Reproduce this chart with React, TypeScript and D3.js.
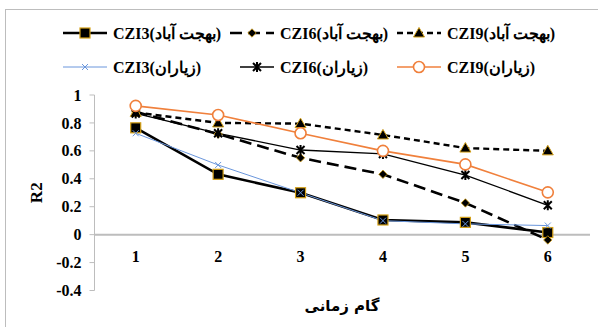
import React from "react";
import * as d3 from "d3";

const steps = [1, 2, 3, 4, 5, 6];
const yTicks = [1, 0.8, 0.6, 0.4, 0.2, 0, -0.2, -0.4];
const czi3Behjat = [0.765, 0.432, 0.3, 0.105, 0.088, 0.015];
const czi6Behjat = [0.88, 0.72, 0.55, 0.432, 0.227, -0.038];
const czi9Behjat = [0.875, 0.8, 0.795, 0.714, 0.62, 0.6];
const czi3Zayaran = [0.726, 0.499, 0.3, 0.1, 0.077, 0.065];
const czi6Zayaran = [0.868, 0.726, 0.606, 0.578, 0.427, 0.21];
const czi9Zayaran = [0.922, 0.857, 0.726, 0.6, 0.503, 0.303];
const labels = [
  "CZI3(بهجت آباد)",
  "CZI6(بهجت آباد)",
  "CZI9(بهجت آباد)",
  "CZI3(زیاران)",
  "CZI6(زیاران)",
  "CZI9(زیاران)",
];
const xTitle = "گام زمانی";
const yTitle = "R2";

type Marker = "square" | "diamond" | "triangle" | "x" | "star" | "circle";
interface Series {
  values: number[];
  label: string;
  color: string;
  width: number;
  dash?: string;
  marker: Marker;
}

const series: Series[] = [
  { values: czi3Behjat, label: labels[0], color: "#000", width: 2.6, marker: "square" },
  { values: czi6Behjat, label: labels[1], color: "#000", width: 2.6, dash: "12,6", marker: "diamond" },
  { values: czi9Behjat, label: labels[2], color: "#000", width: 2.4, dash: "6,4", marker: "triangle" },
  { values: czi3Zayaran, label: labels[3], color: "#6a96dc", width: 1, marker: "x" },
  { values: czi6Zayaran, label: labels[4], color: "#000", width: 1.3, marker: "star" },
  { values: czi9Zayaran, label: labels[5], color: "#f0803c", width: 1.6, marker: "circle" },
];

const GOLD = "#d4a017";
const SERIF = "Liberation Serif, Times New Roman, serif";

function MarkerShape({ type, x, y }: { type: Marker; x: number; y: number }) {
  switch (type) {
    case "square":
      return <rect x={x - 5} y={y - 5} width={10} height={10} fill="#000" stroke={GOLD} strokeWidth={1.2} />;
    case "diamond":
      return (
        <path
          d={`M${x},${y - 4.2}L${x + 4.2},${y}L${x},${y + 4.2}L${x - 4.2},${y}Z`}
          fill="#000"
          stroke={GOLD}
          strokeWidth={0.8}
        />
      );
    case "triangle":
      return (
        <path
          d={`M${x},${y - 5.5}L${x + 5.5},${y + 4}L${x - 5.5},${y + 4}Z`}
          fill="#000"
          stroke={GOLD}
          strokeWidth={1}
        />
      );
    case "x":
      return (
        <path
          d={`M${x - 3},${y - 3}L${x + 3},${y + 3}M${x - 3},${y + 3}L${x + 3},${y - 3}`}
          stroke="#6a96dc"
          strokeWidth={1}
          fill="none"
        />
      );
    case "star":
      return (
        <path
          d={`M${x - 4},${y - 4}L${x + 4},${y + 4}M${x - 4},${y + 4}L${x + 4},${y - 4}M${x},${y - 5}L${x},${y + 5}`}
          stroke="#000"
          strokeWidth={2}
          fill="none"
        />
      );
    case "circle":
      return <circle cx={x} cy={y} r={5.5} fill="#fff" stroke="#f0803c" strokeWidth={1.6} />;
  }
}

export default function App() {
  const W = 598;
  const H = 327;
  const left = 94.5;
  const right = 589;
  const x = d3.scaleBand<number>().domain(steps).range([left, right]);
  const y = d3.scaleLinear().domain([-0.4, 1]).range([290.5, 95]);
  const cx = (d: number) => (x(d) as number) + x.bandwidth() / 2;
  const line = d3
    .line<number>()
    .x((_, i) => cx(steps[i]))
    .y((v) => y(v));

  const legendPos = [
    { lx: 63, ty: 33 },
    { lx: 230, ty: 33 },
    { lx: 397, ty: 33 },
    { lx: 63, ty: 67 },
    { lx: 230, ty: 67 },
    { lx: 397, ty: 67 },
  ];

  const serif = { fontFamily: SERIF };

  return (
    <svg width={W} height={H} style={{ position: "absolute", left: 0, top: 0 }}>
      <rect x={0} y={0} width={W} height={H} fill="#fff" />
      <rect x={5.5} y={9.5} width={W + 10} height={H + 10} fill="none" stroke="#bdbdbd" strokeWidth={1} />

      {/* y axis */}
      <line x1={left} x2={left} y1={y(1)} y2={y(-0.4)} stroke="#bdbdbd" strokeWidth={1} />
      {yTicks.map((t) => (
        <g key={t}>
          <line x1={left - 5} x2={left} y1={y(t)} y2={y(t)} stroke="#bdbdbd" />
          <text
            x={left - 13}
            y={y(t)}
            dy="0.35em"
            textAnchor="end"
            fontSize={16}
            fontWeight="bold"
            style={serif}
          >
            {t === 0 ? "0" : String(t)}
          </text>
        </g>
      ))}
      {/* zero line */}
      <line x1={left} x2={right + 1} y1={y(0)} y2={y(0)} stroke="#bdbdbd" strokeWidth={2} />
      {steps.map((s) => (
        <text key={s} x={cx(s)} y={262} textAnchor="middle" fontSize={16} fontWeight="bold" style={serif}>
          {s}
        </text>
      ))}
      <text
        transform={`translate(42,${(y(1) + y(-0.4)) / 2}) rotate(-90)`}
        textAnchor="middle"
        fontSize={17}
        fontWeight="bold"
        style={serif}
      >
        {yTitle}
      </text>
      <text x={342} y={311} textAnchor="middle" fontSize={15} fontWeight="bold" style={{ fontFamily: "DejaVu Sans, sans-serif" }}>
        {xTitle}
      </text>

      {/* series */}
      {series.map((s, si) => (
        <path
          key={si}
          d={line(s.values) || ""}
          fill="none"
          stroke={s.color}
          strokeWidth={s.width}
          strokeDasharray={s.dash}
        />
      ))}
      {series.map((s, si) => (
        <g key={"m" + si}>
          {s.values.map((v, i) => (
            <MarkerShape key={i} type={s.marker} x={cx(steps[i])} y={y(v)} />
          ))}
        </g>
      ))}

      {/* legend */}
      {series.map((s, si) => {
        const p = legendPos[si];
        const x0 = si === 4 ? 240 : p.lx;
        const x1 = si === 4 ? 274 : p.lx + 44;
        const tx = si === 4 ? 280 : p.lx + 50;
        return (
          <g key={"l" + si}>
            <line
              x1={x0}
              x2={x1}
              y1={p.ty}
              y2={p.ty}
              stroke={s.color}
              strokeWidth={s.width}
              strokeDasharray={s.dash}
            />
            <MarkerShape type={s.marker} x={(x0 + x1) / 2} y={p.ty} />
            <text x={tx} y={p.ty} dy="0.35em" fontSize={16} fontWeight="bold" direction="ltr" style={serif}>
              {s.label}
            </text>
          </g>
        );
      })}
    </svg>
  );
}
